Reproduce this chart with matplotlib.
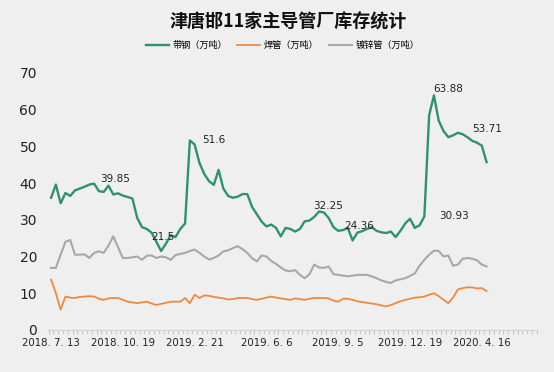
import matplotlib.pyplot as plt
import numpy as np

plt.rcParams['font.family'] = ['Noto Sans CJK SC', 'DejaVu Sans']

title = "津唐邯11家主导管厂库存统计"
series_names = ["带钢（万吨）", "焊管（万吨）", "镀锌管（万吨）"]

strip = [36.0, 39.6, 34.5, 37.3, 36.5, 38.0, 38.5, 39.0, 39.6, 39.85,
         37.8, 37.6, 39.3, 36.9, 37.2, 36.6, 36.2, 35.8, 30.5, 28.0,
         27.5, 26.5, 24.0, 21.5, 23.5, 25.8, 25.3, 27.5, 29.0, 51.6,
         50.5, 45.5, 42.5, 40.5, 39.5, 43.6, 38.5, 36.5, 36.0, 36.3,
         37.0, 37.0, 33.5, 31.5, 29.5, 28.2, 28.7, 27.8, 25.5, 27.8,
         27.5, 26.8, 27.5, 29.6, 29.8, 30.8, 32.25, 32.0, 30.5, 28.0,
         27.0, 27.2, 27.8, 24.36, 26.5, 26.9, 27.5, 28.0, 27.0, 26.6,
         26.4, 26.8, 25.3, 27.0, 29.0, 30.3, 27.8, 28.5, 30.93, 58.5,
         63.88, 57.0, 54.2, 52.5, 53.0, 53.71, 53.3, 52.5, 51.5, 51.0,
         50.2, 45.7]

welded = [13.7, 10.0, 5.5, 9.1, 8.8, 8.7, 9.0, 9.1, 9.2, 9.1,
          8.5, 8.2, 8.6, 8.7, 8.7, 8.2, 7.7, 7.5, 7.3, 7.5,
          7.7, 7.2, 6.8, 7.1, 7.4, 7.7, 7.7, 7.7, 8.7, 7.3,
          9.6, 8.7, 9.4, 9.3, 9.0, 8.8, 8.6, 8.3, 8.4, 8.7,
          8.7, 8.7, 8.4, 8.2, 8.5, 8.8, 9.1, 8.8, 8.6, 8.4,
          8.2, 8.6, 8.4, 8.2, 8.5, 8.7, 8.7, 8.7, 8.6, 8.0,
          7.7, 8.5, 8.5, 8.2, 7.8, 7.6, 7.4, 7.2, 7.0, 6.7,
          6.4, 6.8, 7.3, 7.8, 8.2, 8.5, 8.8, 8.9, 9.1, 9.6,
          10.0, 9.2, 8.2, 7.3, 8.8, 11.0, 11.4, 11.6, 11.6, 11.3,
          11.4, 10.6]

galvanized = [16.9, 16.9, 20.5, 24.0, 24.5, 20.5, 20.5, 20.6, 19.6, 21.0,
              21.4, 21.0, 23.0, 25.5, 22.5, 19.6, 19.6, 19.8, 20.0, 19.1,
              20.2, 20.3, 19.6, 20.0, 19.8, 19.1, 20.4, 20.7, 21.0, 21.5,
              21.9, 21.0, 20.0, 19.2, 19.6, 20.3, 21.4, 21.7, 22.3, 22.8,
              22.0, 21.0, 19.5, 18.7, 20.3, 20.0, 18.8, 18.0, 17.0, 16.2,
              16.0, 16.3, 15.0, 14.1, 15.2, 17.8, 17.0, 16.9, 17.3, 15.2,
              15.0, 14.8, 14.6, 14.8, 15.0, 15.0, 15.0, 14.6, 14.1, 13.5,
              13.1, 12.8, 13.5, 13.8, 14.1, 14.7, 15.4, 17.5, 19.1, 20.5,
              21.6, 21.5, 20.0, 20.3, 17.5, 17.8, 19.4, 19.6, 19.4, 19.0,
              17.8, 17.3]

tick_labels = ["2018. 7. 13", "2018. 10. 19", "2019. 2. 21", "2019. 6. 6",
               "2019. 9. 5", "2019. 12. 19", "2020. 4. 16"]
n_categories = 102

# (index of point, offset in pixels) for the value labels on the strip series
labelled = [(9, (21, 5)), (23, (2, 14)), (29, (24, 0)), (56, (9, 6)),
            (63, (7, 15)), (80, (14, 6)), (85, (29, 4)), (78, (30, 0))]

bg = '#efefef'
colors = ['#2e9272', '#ed8a3f', '#a8a8a8']

fig = plt.figure(figsize=(5.54, 3.72), dpi=100, facecolor=bg)
ax = fig.add_axes([0.087, 0.113, 0.882, 0.691], facecolor=bg)

x = np.arange(len(strip))
ax.plot(x, strip, color=colors[0], lw=1.7, label=series_names[0])
ax.plot(x, welded, color=colors[1], lw=1.3, label=series_names[1])
ax.plot(x, galvanized, color=colors[2], lw=1.5, label=series_names[2])

for i, off in labelled:
    ax.annotate(f"{strip[i]:g}", (i, strip[i]), xytext=off,
                textcoords='offset pixels', ha='center', va='center',
                fontsize=7.5, family='DejaVu Sans', color='#222222')

ax.set_ylim(0, 70)
ax.set_yticks(range(0, 71, 10))
ax.set_xlim(-0.6, n_categories - 1.2)
ax.set_xticks(range(0, len(strip), 15))
ax.set_xticklabels(tick_labels)
ax.set_xticks(np.arange(-0.5, n_categories, 1), minor=True)

for s in ['top', 'right', 'left']:
    ax.spines[s].set_visible(False)
ax.spines['bottom'].set_color('#d4d4d4')
ax.tick_params(axis='y', length=0, pad=8, labelsize=10)
ax.tick_params(axis='x', which='major', length=0, pad=6, labelsize=7.3)
ax.tick_params(axis='x', which='minor', length=3, color='#c8c8c8', width=0.8)
for t in ax.get_xticklabels() + ax.get_yticklabels():
    t.set_family('DejaVu Sans')
    t.set_color('#222222')

fig.text(0.52, 0.94, title, ha='center', va='center', fontsize=13,
         fontweight='bold', color='#111111')
fig.legend(loc='center', bbox_to_anchor=(0.51, 0.878), ncol=3, frameon=False,
           fontsize=6.6, handlelength=2.5, columnspacing=1.1, handletextpad=0.4)

fig.savefig('out.png', dpi=100, facecolor=bg)
